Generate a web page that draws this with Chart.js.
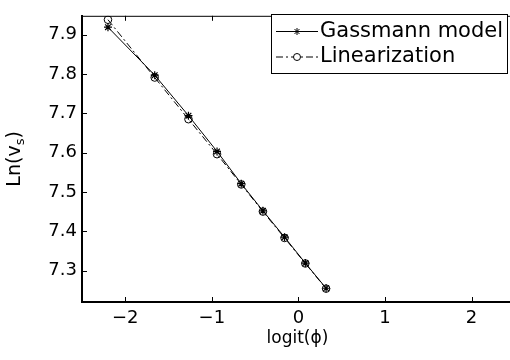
<!DOCTYPE html>
<html>
<head>
<meta charset="utf-8">
<script src="https://cdn.jsdelivr.net/npm/chart.js@4"></script>
<style>
  html, body { margin: 0; padding: 0; background: #fff; overflow: hidden; }
  #wrap { width: 520px; height: 360px; }
</style>
</head>
<body>
<div id="wrap"><canvas id="grafico"></canvas></div>
<script>
// datos
const logitPhi = [-2.20, -1.66, -1.27, -0.94, -0.66, -0.41, -0.16, 0.08, 0.32];
const gassmann = [7.919, 7.797, 7.694, 7.603, 7.521, 7.452, 7.385, 7.319, 7.255];
const linealizacion = [7.938, 7.791, 7.685, 7.596, 7.519, 7.450, 7.383, 7.318, 7.254];
const xTicks = [-2, -1, 0, 1, 2];
const yTicks = [7.3, 7.4, 7.5, 7.6, 7.7, 7.8, 7.9];
const etiquetas = ['Gassmann model', 'Linearization'];

const fuente = '"DejaVu Sans", sans-serif';

function puntos(ys) {
  return logitPhi.map((x, i) => ({ x: x, y: ys[i] }));
}

// marco, ticks hacia dentro, titulos y leyenda
const marco = {
  id: 'marco',
  afterDraw(chart) {
    const { ctx, chartArea: a, scales: { x, y } } = chart;
    ctx.save();
    ctx.strokeStyle = '#000';
    ctx.lineWidth = 1;

    // borde superior
    ctx.beginPath();
    ctx.moveTo(a.left, a.top + 0.5);
    ctx.lineTo(a.right, a.top + 0.5);
    ctx.stroke();

    // ticks
    ctx.beginPath();
    xTicks.forEach(v => {
      const px = Math.round(x.getPixelForValue(v)) + 0.5;
      ctx.moveTo(px, a.bottom);
      ctx.lineTo(px, a.bottom - 5);
      ctx.moveTo(px, a.top);
      ctx.lineTo(px, a.top + 5);
    });
    yTicks.forEach(v => {
      const py = Math.round(y.getPixelForValue(v)) + 0.5;
      ctx.moveTo(a.left, py);
      ctx.lineTo(a.left + 5, py);
    });
    ctx.stroke();

    // titulo eje x
    ctx.fillStyle = '#000';
    ctx.font = '17px ' + fuente;
    ctx.textAlign = 'center';
    ctx.textBaseline = 'middle';
    ctx.fillText('logit(ϕ)', (a.left + a.right) / 2 - 1, 339);

    // titulo eje y con subindice
    ctx.save();
    ctx.translate(15, (a.top + a.bottom) / 2);
    ctx.rotate(-Math.PI / 2);
    ctx.textAlign = 'left';
    ctx.font = '19px ' + fuente;
    const w1 = ctx.measureText('Ln(v').width;
    const w3 = ctx.measureText(')').width;
    ctx.font = '13px ' + fuente;
    const w2 = ctx.measureText('s').width;
    let x0 = -(w1 + w2 + w3) / 2;
    ctx.font = '19px ' + fuente;
    ctx.fillText('Ln(v', x0, 0);
    ctx.font = '13px ' + fuente;
    ctx.fillText('s', x0 + w1, 6);
    ctx.font = '19px ' + fuente;
    ctx.fillText(')', x0 + w1 + w2, 0);
    ctx.restore();

    // leyenda
    const lx = 271.5, ly = 14.5, lw = 236, lh = 59;
    ctx.fillStyle = '#fff';
    ctx.fillRect(lx, ly, lw, lh);
    ctx.strokeRect(lx, ly, lw, lh);
    const filas = [31.5, 57];
    chart.data.datasets.forEach((ds, i) => {
      const fy = filas[i];
      ctx.save();
      ctx.strokeStyle = '#000';
      ctx.lineWidth = 1;
      ctx.setLineDash(ds.borderDash || []);
      ctx.beginPath();
      ctx.moveTo(276, fy);
      ctx.lineTo(318, fy);
      ctx.stroke();
      ctx.setLineDash([]);
      const cx = 297, r = 3.5;
      ctx.beginPath();
      if (ds.pointStyle === 'star') {
        ctx.moveTo(cx - r, fy); ctx.lineTo(cx + r, fy);
        ctx.moveTo(cx, fy - r); ctx.lineTo(cx, fy + r);
        const d = r * 0.707;
        ctx.moveTo(cx - d, fy - d); ctx.lineTo(cx + d, fy + d);
        ctx.moveTo(cx - d, fy + d); ctx.lineTo(cx + d, fy - d);
        ctx.stroke();
      } else {
        ctx.arc(cx, fy, r, 0, Math.PI * 2);
        ctx.fillStyle = '#fff';
        ctx.fill();
        ctx.stroke();
      }
      ctx.restore();
      ctx.fillStyle = '#000';
      ctx.font = '21px ' + fuente;
      ctx.textAlign = 'left';
      ctx.textBaseline = 'middle';
      ctx.fillText(etiquetas[i], 320, fy);
    });

    ctx.restore();
  }
};

const ctx = document.getElementById('grafico').getContext('2d');
new Chart(ctx, {
  type: 'scatter',
  data: {
    datasets: [{
      label: etiquetas[0],
      data: puntos(gassmann),
      showLine: true,
      borderColor: '#000',
      borderWidth: 1,
      pointStyle: 'star',
      pointRadius: 4,
      pointBorderColor: '#000',
      pointBorderWidth: 1.2,
      tension: 0
    }, {
      label: etiquetas[1],
      data: puntos(linealizacion),
      showLine: true,
      borderColor: '#000',
      borderWidth: 1,
      borderDash: [7, 3, 2, 3],
      pointStyle: 'circle',
      pointRadius: 3.8,
      pointBackgroundColor: 'rgba(0,0,0,0)',
      pointBorderColor: '#000',
      pointBorderWidth: 1,
      tension: 0
    }]
  },
  options: {
    responsive: true,
    maintainAspectRatio: false,
    animation: false,
    layout: { padding: { left: 0, top: 9, right: 5, bottom: 0 } },
    plugins: {
      legend: { display: false },
      tooltip: { enabled: false }
    },
    scales: {
      x: {
        type: 'linear',
        min: -2.5,
        max: 2.5,
        afterBuildTicks: s => { s.ticks = xTicks.map(v => ({ value: v })); },
        afterFit: s => { s.height = 58; },
        grid: { display: false, drawTicks: false },
        border: { display: true, color: '#000', width: 2 },
        ticks: {
          color: '#000',
          font: { family: fuente, size: 18 },
          padding: 6,
          maxRotation: 0,
          callback: v => (v < 0 ? '\u2212' + Math.abs(v) : String(v))
        }
      },
      y: {
        type: 'linear',
        min: 7.22,
        max: 7.948,
        afterBuildTicks: s => { s.ticks = yTicks.map(v => ({ value: v })); },
        afterFit: s => { s.width = 82; },
        grid: { display: false, drawTicks: false },
        border: { display: true, color: '#000', width: 2 },
        ticks: {
          color: '#000',
          font: { family: fuente, size: 18 },
          padding: 5,
          callback: v => v.toFixed(1)
        }
      }
    }
  },
  plugins: [marco]
});
</script>
</body>
</html>
